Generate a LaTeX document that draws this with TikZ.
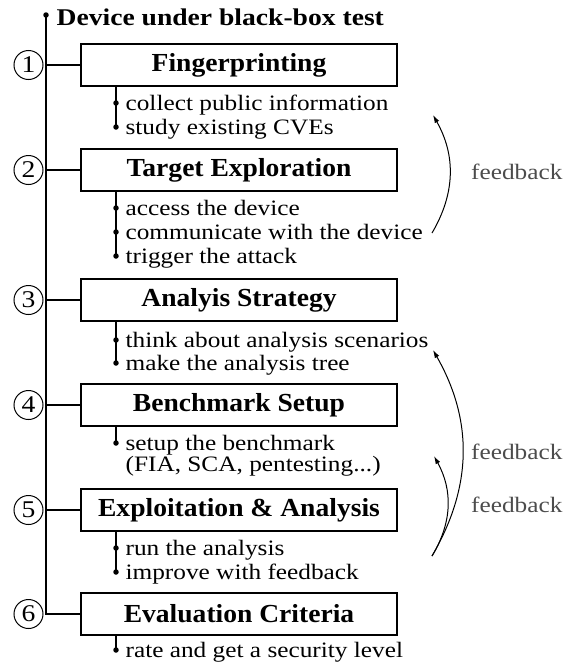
\documentclass[tikz,border=0pt]{standalone}
\usepackage{fontspec}
\setmainfont{Liberation Serif}[FakeStretch=1.15]
\newfontfamily\stagefamily{Liberation Serif}[FakeStretch=1.06]
\usetikzlibrary{arrows.meta}
\definecolor{fbgray}{gray}{0.3}
\newcommand\itemfont{\fontsize{22}{26}\selectfont}
\newcommand\numfont{\fontsize{24}{28}\selectfont}
\newcommand\headfont{\fontsize{24}{28}\selectfont\bfseries}
\newcommand\stagefont{\stagefamily\fontsize{26}{30}\selectfont\bfseries}
\begin{document}
\begin{tikzpicture}[x=1pt, y=-1pt, line width=1.2pt,
  stage/.style={draw, minimum width=316pt, minimum height=42pt, inner sep=0pt, font=\stagefont},
  num/.style={draw, circle, minimum size=29pt, inner sep=0pt, line width=1pt, font=\numfont},
  bullet/.style={circle, fill, minimum size=5.5pt, inner sep=0pt},
  itemtext/.style={anchor=base west, inner sep=0pt, font=\itemfont},
  headtext/.style={anchor=base west, inner sep=0pt, font=\headfont},
  fbtext/.style={anchor=east, inner sep=0pt, font=\itemfont, text=fbgray},
  fbarrow/.style={line width=1pt, -{Latex[length=8pt,width=5pt]}, bend right=30},
]
\useasboundingbox (0,0) rectangle (565,667);

% root of the tree
\node[bullet] (root) at (46,15) {};
\node[headtext] (head) at (56,25) {Device under black-box test};

% the six stages
\node[stage] (b1) at (239,65)  {Fingerprinting};
\node[stage] (b2) at (239,170) {Target Exploration};
\node[stage] (b3) at (239,300) {Analyis Strategy};
\node[stage] (b4) at (239,405) {Benchmark Setup};
\node[stage] (b5) at (239,510) {Exploitation \& Analysis};
\node[stage] (b6) at (239,614) {Evaluation Criteria};

% step numbers
\foreach \i/\y in {1/65,2/170,3/300,4/405,5/510,6/614}
  \node[num] (n\i) at (28.5,\y) {\i};

% trunk and branches
\draw (root.center) |- (b6.west);
\foreach \i in {1,...,5}
  \draw (b\i.west) -- (b\i.west -| root);

% sub-items of each stage
\node[bullet] (d11) at (116,103) {};
\node[itemtext] (t11) at (125,110) {collect public information};
\node[bullet] (d12) at (116,127) {};
\node[itemtext] (t12) at (125,134) {study existing CVEs};

\node[bullet] (d21) at (116,208) {};
\node[itemtext] (t21) at (125,215) {access the device};
\node[bullet] (d22) at (116,232) {};
\node[itemtext] (t22) at (125,239) {communicate with the device};
\node[bullet] (d23) at (116,256) {};
\node[itemtext] (t23) at (125,263) {trigger the attack};

\node[bullet] (d31) at (116,340) {};
\node[itemtext] (t31) at (125,347) {think about analysis scenarios};
\node[bullet] (d32) at (116,363) {};
\node[itemtext] (t32) at (125,370) {make the analysis tree};

\node[bullet] (d41) at (116,443) {};
\node[itemtext] (t41) at (125,450) {setup the benchmark};
\node[itemtext] (t41b) at (125,471) {(FIA, SCA, pentesting...)};

\node[bullet] (d51) at (116,548) {};
\node[itemtext] (t51) at (125,555) {run the analysis};
\node[bullet] (d52) at (116,572) {};
\node[itemtext] (t52) at (125,579) {improve with feedback};

\node[bullet] (d61) at (116,650) {};
\node[itemtext] (t61) at (125,657) {rate and get a security level};

\draw (b1.south -| d12) -- (d12.center);
\draw (b2.south -| d23) -- (d23.center);
\draw (b3.south -| d32) -- (d32.center);
\draw (b4.south -| d41) -- (d41.center);
\draw (b5.south -| d52) -- (d52.center);
\draw (b6.south -| d61) -- (d61.center);

% feedback loops
\coordinate (fa0) at (432,233);
\coordinate (fa1) at (433,115);
\coordinate (fb0) at (432,556);
\coordinate (fb1) at (433,350);
\coordinate (fc1) at (434,456);
\draw[fbarrow] (fa0) to (fa1);
\draw[fbarrow] (fb0) to (fb1);
\draw[fbarrow] (fb0) to (fc1);
\node[fbtext] (fla) at (563,172) {feedback};
\node[fbtext] (flb) at (563,452) {feedback};
\node[fbtext] (flc) at (563,505) {feedback};
\end{tikzpicture}
\end{document}
